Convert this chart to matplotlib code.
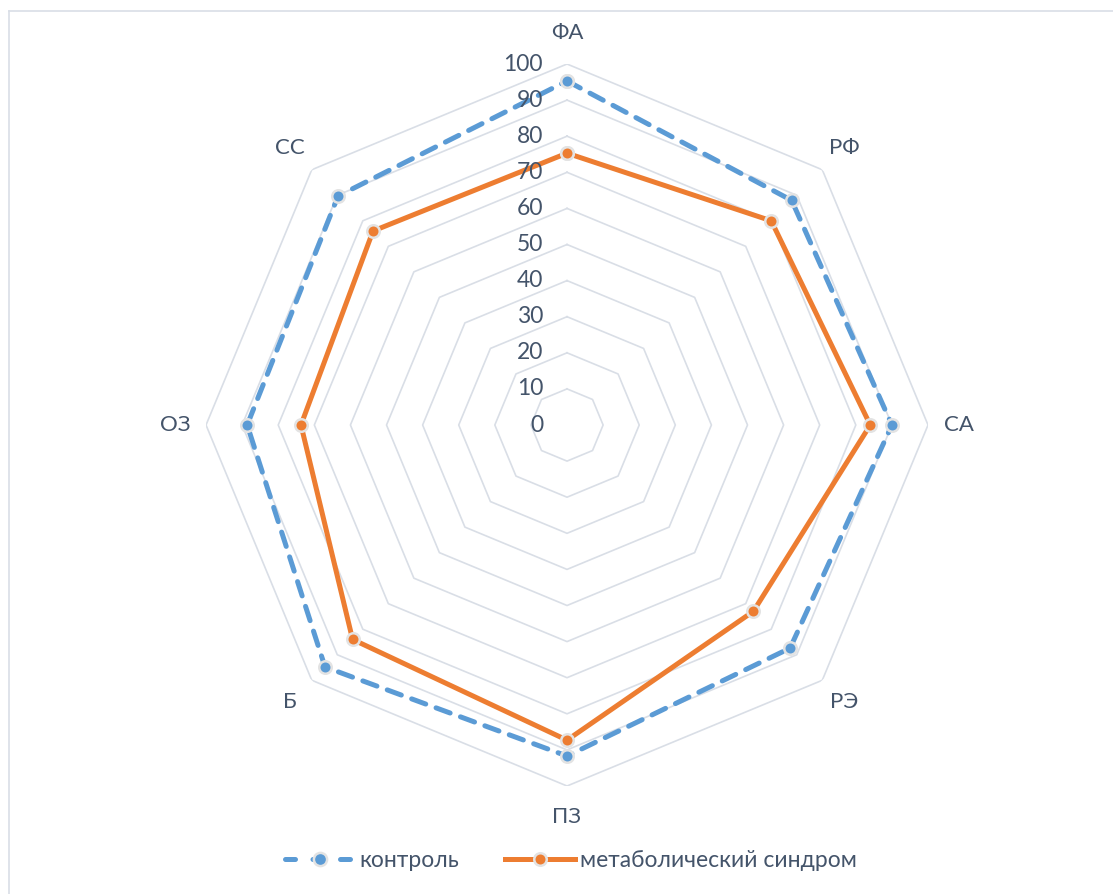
import numpy as np
import matplotlib
matplotlib.use("Agg")
import matplotlib.pyplot as plt
from matplotlib.lines import Line2D

categories = ["ФА", "РФ", "СА", "РЭ", "ПЗ", "Б", "ОЗ", "СС"]
control = [95.3, 88.0, 90.0, 87.4, 91.7, 94.8, 88.6, 89.7]
metabolic = [75.3, 80.0, 84.0, 73.0, 87.3, 84.0, 73.7, 76.0]
ticks = [0, 10, 20, 30, 40, 50, 60, 70, 80, 90, 100]
series_names = ["контроль", "метаболический синдром"]

plt.rcParams['font.family'] = ['Lato', 'DejaVu Sans']
W, H = 1113, 894
fig = plt.figure(figsize=(W / 100, H / 100), dpi=100)
border = '#D9DEE6'
fig.add_artist(Line2D([8.5 / W, 8.5 / W], [0, 1 - 10.5 / H], transform=fig.transFigure,
                      color=border, lw=1.2))
fig.add_artist(Line2D([8.5 / W, 1], [1 - 10.5 / H, 1 - 10.5 / H], transform=fig.transFigure,
                      color=border, lw=1.2))

ax = fig.add_axes([0.1851, 0.1208, 0.6487, 0.8076], projection='polar')
ax.set_theta_zero_location('N')
ax.set_theta_direction(-1)
ax.set_ylim(0, 100)
ax.grid(False)
ax.spines['polar'].set_visible(False)
ax.set_xticks([])
ax.set_yticks([])
ax.patch.set_alpha(0)

n = len(categories)
theta = np.linspace(0, 2 * np.pi, n, endpoint=False)
tc = np.append(theta, theta[0])

grid_color = '#D9DEE6'
for t in ticks[1:]:
    ax.plot(tc, [t] * (n + 1), color=grid_color, lw=1.2, zorder=1)

txt_color = '#44546A'
for t in ticks:
    ax.annotate(str(t), xy=(0, t), xytext=(-24, 0), textcoords='offset pixels',
                ha='right', va='center', fontsize=16.5, color=txt_color, zorder=5)

for th, c in zip(theta, categories):
    ax.text(th, 108.5, c, ha='center', va='center', fontsize=16, color=txt_color)

blue = '#5B9BD5'
orange = '#ED7D31'
ax.plot(tc, control + [control[0]], color=blue, lw=3.6, linestyle=(0, (3, 2.2)),
        marker='o', markersize=9, markerfacecolor=blue, markeredgecolor='#E3E3E3',
        markeredgewidth=1.8, zorder=3, dash_capstyle='round')
ax.plot(tc, metabolic + [metabolic[0]], color=orange, lw=3.6,
        marker='o', markersize=9, markerfacecolor=orange, markeredgecolor='#E3E3E3',
        markeredgewidth=1.8, zorder=4)

handles = [
    Line2D([], [], color=blue, lw=3.6, linestyle=(0, (2.0, 3.5)), dash_capstyle='round',
           marker='o', markersize=9.5, markerfacecolor=blue, markeredgecolor='#E3E3E3',
           markeredgewidth=1.8),
    Line2D([], [], color=orange, lw=3.6, marker='o', markersize=9,
           markerfacecolor=orange, markeredgecolor='#E3E3E3', markeredgewidth=1.8),
]
leg = fig.legend(handles, series_names, loc='center', bbox_to_anchor=(0.513, 0.038),
                 ncol=2, frameon=False, fontsize=16.5, handlelength=3.05,
                 columnspacing=2.0, handletextpad=0.2)
for t in leg.get_texts():
    t.set_color(txt_color)

fig.savefig('out.png', dpi=100)
